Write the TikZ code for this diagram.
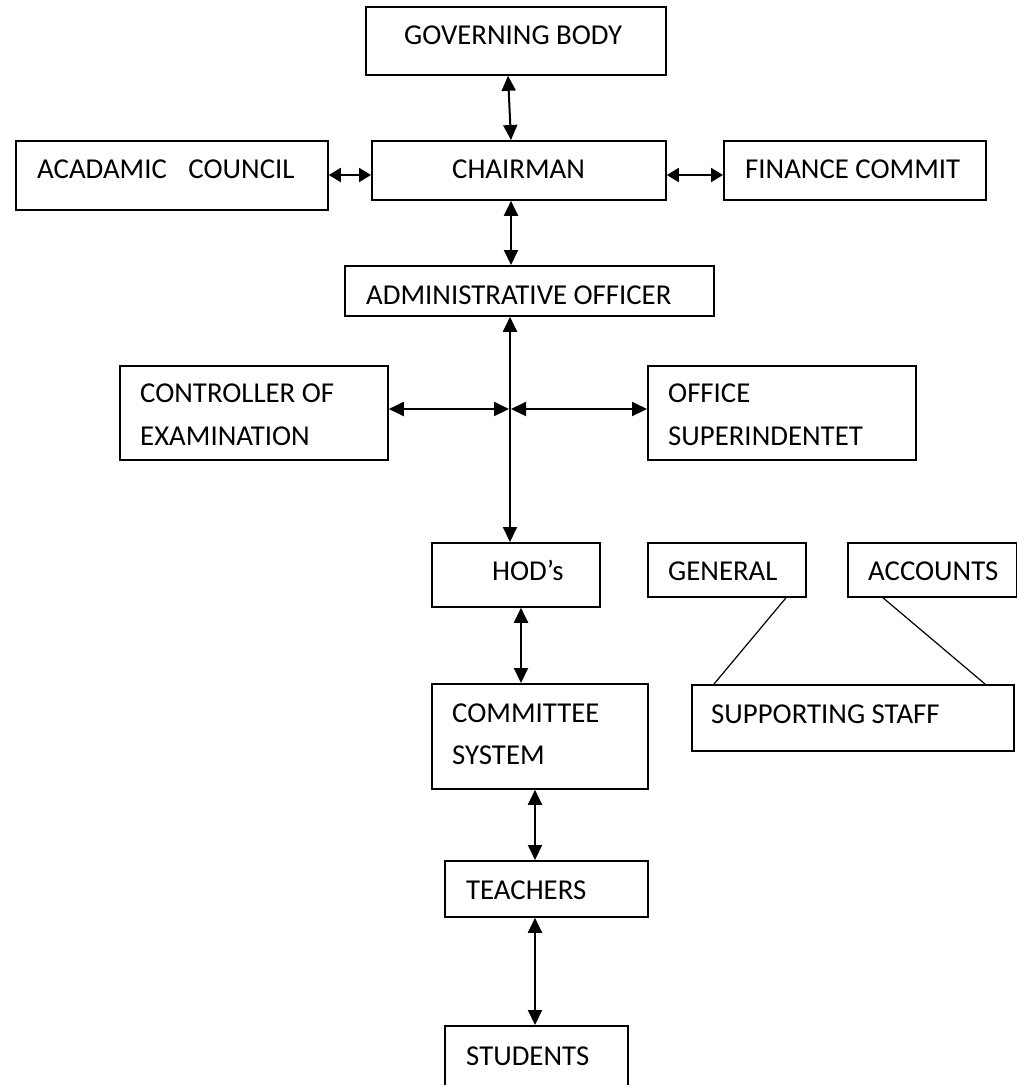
\documentclass[tikz,border=0pt]{standalone}
\usepackage{fontspec}
\setmainfont{Carlito}
\usetikzlibrary{arrows.meta}
\tikzset{
  box/.style={draw=black, line width=1.8pt, inner sep=0pt, anchor=north west, fill=none},
  lbl/.style={inner sep=0pt, anchor=base west, font=\fontsize{28.8}{34}\selectfont},
  arr/.style={line width=2pt, {Triangle[length=15pt,width=14pt]}-{Triangle[length=15pt,width=14pt]}},
  sarr/.style={line width=2pt, {Triangle[length=12pt,width=14pt]}-{Triangle[length=12pt,width=14pt]}},
  thin line/.style={line width=1.2pt}
}
\begin{document}
\begin{tikzpicture}[x=1pt,y=-1pt]
\useasboundingbox (0,0) rectangle (1017,1085);
% boxes
\node[box, minimum width=300pt, minimum height=68pt] (gb) at (365,6) {};
\node[box, minimum width=294pt, minimum height=59pt] (ch) at (371,140) {};
\node[box, minimum width=312pt, minimum height=69pt] (ac) at (15,140) {};
\node[box, minimum width=262pt, minimum height=59pt] (fc) at (723,140) {};
\node[box, minimum width=369pt, minimum height=50pt] (ao) at (344,265) {};
\node[box, minimum width=268pt, minimum height=94pt] (ce) at (119,365) {};
\node[box, minimum width=268pt, minimum height=94pt] (os) at (647,365) {};
\node[box, minimum width=168pt, minimum height=64pt] (hod) at (431,542) {};
\node[box, minimum width=158pt, minimum height=54pt] (gen) at (647,542) {};
\node[box, minimum width=169pt, minimum height=54pt] (acc) at (847,542) {};
\node[box, minimum width=216pt, minimum height=105pt] (cs) at (431,683) {};
\node[box, minimum width=322pt, minimum height=66pt] (ss) at (691,684) {};
\node[box, minimum width=203pt, minimum height=56pt] (tea) at (444,860) {};
\node[box, minimum width=183pt, minimum height=80pt] (stu) at (444,1025) {};
% labels
\node[lbl] (gbt) at (404,44) {GOVERNING BODY};
\node[lbl] (cht) at (452,178) {CHAIRMAN};
\node[lbl] (act) at (37,178) {ACADAMIC\hspace{0.75em}COUNCIL};
\node[lbl] (fct) at (745,178) {FINANCE COMMIT};
\node[lbl] (aot) at (366,304) {ADMINISTRATIVE OFFICER};
\node[lbl] (cet1) at (140,402) {CONTROLLER OF};
\node[lbl] (cet2) at (140,445) {EXAMINATION};
\node[lbl] (ost1) at (668,402) {OFFICE};
\node[lbl] (ost2) at (668,445) {SUPERINDENTET};
\node[lbl] (hodt) at (492,580) {HOD’s};
\node[lbl] (gent) at (668,580) {GENERAL};
\node[lbl] (acct) at (868,580) {ACCOUNTS};
\node[lbl] (cst1) at (452,722) {COMMITTEE};
\node[lbl] (cst2) at (452,764) {SYSTEM};
\node[lbl] (sst) at (711,723) {SUPPORTING STAFF};
\node[lbl] (teat) at (466,899) {TEACHERS};
\node[lbl] (stut) at (466,1065) {STUDENTS};
% junction
\coordinate (j) at (510,409);
% connectors
\draw[arr] (508,0 |- gb.south) -- (511,0 |- ch.north);
\draw[sarr] (ac.east |- 0,175) -- (ch.west |- 0,175);
\draw[sarr] (ch.east |- 0,175) -- (fc.west |- 0,175);
\draw[arr] (511,0 |- ch.south) -- (511,0 |- ao.north);
\draw[arr] (510,0 |- ao.south) -- (510,0 |- hod.north);
\draw[arr] (ce.east |- j) -- ([xshift=-1pt]j);
\draw[arr] ([xshift=1pt]j) -- (os.west |- j);
\draw[arr] (521,0 |- hod.south) -- (521,0 |- cs.north);
\draw[arr] (535,0 |- cs.south) -- (535,0 |- tea.north);
\draw[arr] (535,0 |- tea.south) -- (535,0 |- stu.north);
\draw[thin line] (786,0 |- gen.south) -- (714,0 |- ss.north);
\draw[thin line] (883,0 |- acc.south) -- (985,0 |- ss.north);
\end{tikzpicture}
\end{document}
